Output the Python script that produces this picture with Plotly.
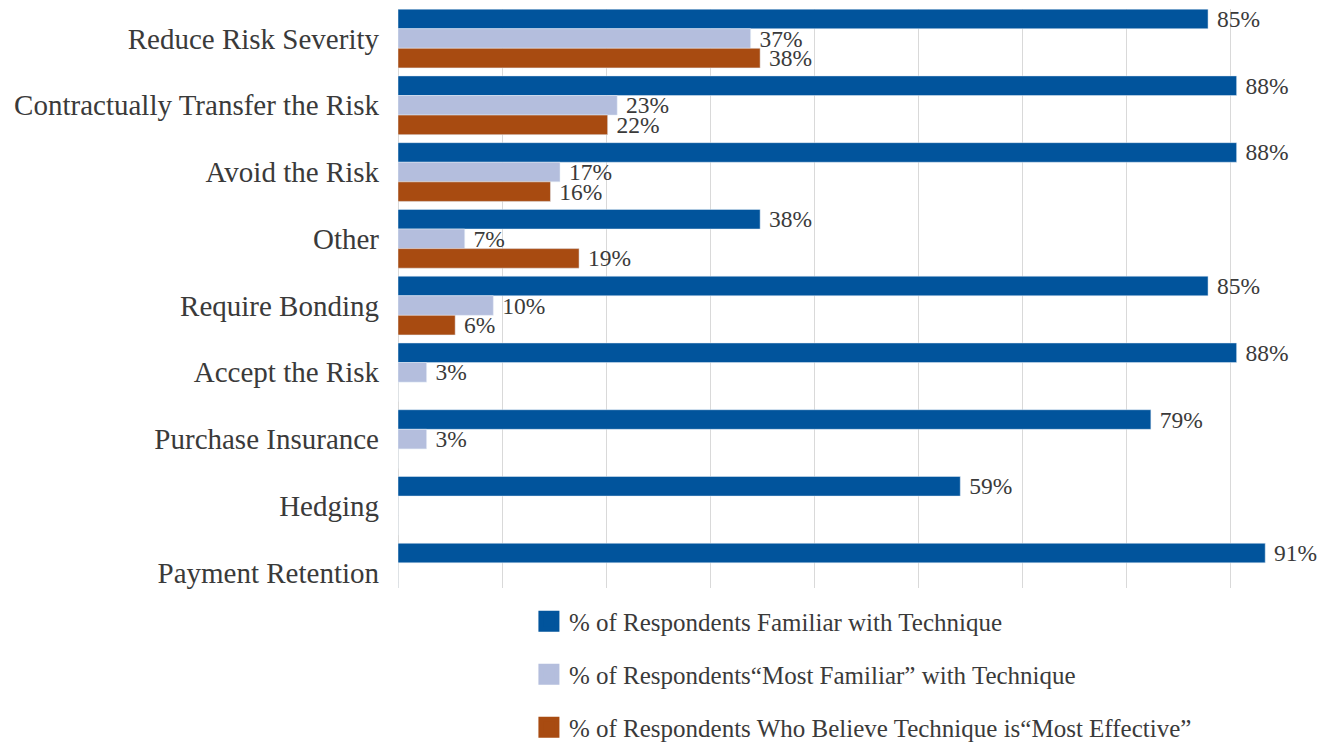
import plotly.graph_objects as go

categories = ["Reduce Risk Severity", "Contractually Transfer the Risk", "Avoid the Risk",
              "Other", "Require Bonding", "Accept the Risk", "Purchase Insurance",
              "Hedging", "Payment Retention"]
familiar = [85, 88, 88, 38, 85, 88, 79, 59, 91]
most_familiar = [37, 23, 17, 7, 10, 3, 3, 0, 0]
most_effective = [38, 22, 16, 19, 6, 0, 0, 0, 0]
series_names = ["% of Respondents Familiar with Technique",
                "% of Respondents\u201cMost Familiar\u201d with Technique",
                "% of Respondents Who Believe Technique is\u201cMost Effective\u201d"]
colors = ["#01549C", "#B4BEDD", "#A84B11"]

FONT = "Liberation Serif"
TXT = "#3a3a3a"

fig = go.Figure()
ypos = list(range(len(categories)))
for vals, name, col in zip([familiar, most_familiar, most_effective], series_names, colors):
    fig.add_trace(go.Bar(
        y=ypos, x=vals, orientation="h", name=name, marker_color=col,
        text=["\u00a0" + f"{v}%" if v else "" for v in vals],
        textposition="outside", cliponaxis=False, constraintext="none",
        textfont=dict(family=FONT, size=23.5, color=TXT),
        showlegend=False,
    ))
for i, (name, col) in enumerate(zip(series_names, colors)):
    fig.add_trace(go.Scatter(
        x=[None], y=[None], mode="markers", name=name, legendgroup=f"g{i}",
        marker=dict(symbol="square", size=16, color=col, line=dict(color=col, width=5)),
    ))

fig.update_layout(
    width=1323, height=736,
    margin=dict(l=390, r=11, t=1, b=156, autoexpand=False),
    barmode="group", bargap=0.12, bargroupgap=0,
    plot_bgcolor="white", paper_bgcolor="white",
    font=dict(family=FONT, color=TXT),
    legend=dict(orientation="v", x=0.142, xanchor="left", y=-0.018, yanchor="top",
                font=dict(family=FONT, size=25, color=TXT), tracegroupgap=17.5,
                bgcolor="rgba(0,0,0,0)"),
)
fig.update_xaxes(range=[0, 922 / 9.53], dtick=104 / 9.53, showticklabels=False,
                 showgrid=True, gridcolor="#d9d9d9", gridwidth=1, automargin=False,
                 zeroline=True, zerolinecolor="#d9d9d9", zerolinewidth=1, showline=False)
fig.update_yaxes(range=[8.23, -0.442], tickvals=ypos, ticktext=categories,
                 showgrid=False, zeroline=False, ticks="", ticklabelstandoff=18,
                 automargin=False,
                 tickfont=dict(family=FONT, size=29, color=TXT))

fig.write_html("out.html")
